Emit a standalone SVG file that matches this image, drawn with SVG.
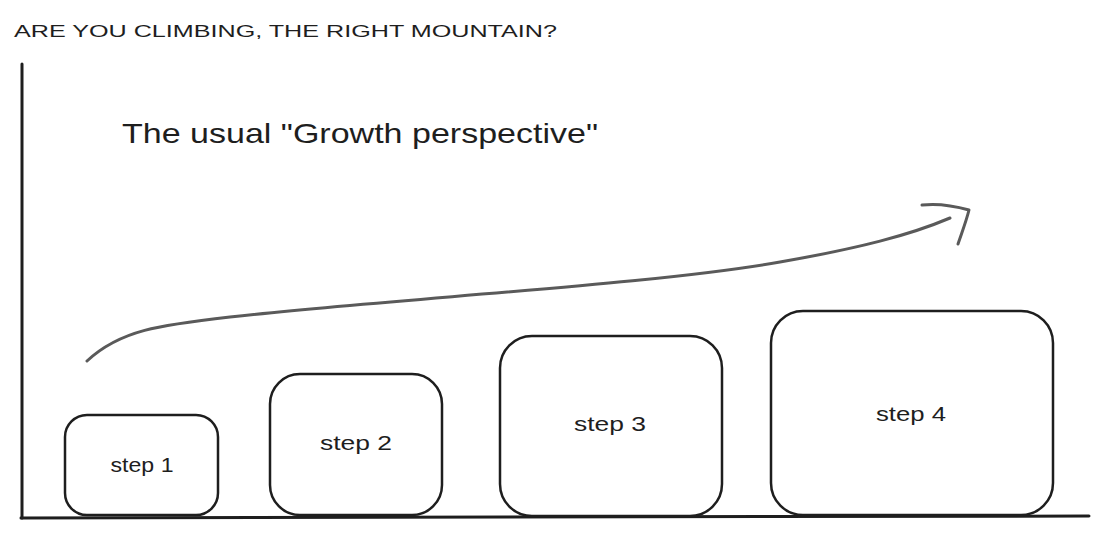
<svg xmlns="http://www.w3.org/2000/svg" width="1113" height="540" viewBox="0 0 1113 540">
<style>
.box{fill:#fff;stroke:#1e1e1e;stroke-width:2.5}
.lbl{font-family:"Liberation Sans",sans-serif;font-size:20px;fill:#1e1e1e;text-anchor:middle}
.axis{stroke:#1e1e1e;stroke-width:3;fill:none;stroke-linecap:round}
.arrow{stroke:#5a5a5a;stroke-width:3;fill:none;stroke-linecap:round;stroke-linejoin:round}
</style>
<rect width="1113" height="540" fill="#fff"/>
<text x="14" y="37" font-family="Liberation Sans, sans-serif" font-size="16" fill="#1e1e1e" textLength="543" lengthAdjust="spacingAndGlyphs">ARE YOU CLIMBING, THE RIGHT MOUNTAIN?</text>
<text x="122" y="143" font-family="Liberation Sans, sans-serif" font-size="28" fill="#1e1e1e" textLength="476" lengthAdjust="spacingAndGlyphs">The usual "Growth perspective"</text>
<g id="axes">
<path class="axis" d="M22,64 L22,518"/>
<path class="axis" d="M21,518 L1089,516"/>
</g>
<g id="step1"><rect class="box" x="65" y="415" width="153" height="100" rx="22"/><text class="lbl" x="142" y="472" textLength="63" lengthAdjust="spacingAndGlyphs">step 1</text></g>
<g id="step2"><rect class="box" x="270" y="374" width="172" height="141" rx="30"/><text class="lbl" x="356" y="450" textLength="72" lengthAdjust="spacingAndGlyphs">step 2</text></g>
<g id="step3"><rect class="box" x="500" y="336" width="222" height="180" rx="32"/><text class="lbl" x="610" y="431" textLength="72" lengthAdjust="spacingAndGlyphs">step 3</text></g>
<g id="step4"><rect class="box" x="771" y="311" width="282" height="204" rx="32"/><text class="lbl" x="911" y="421" textLength="70" lengthAdjust="spacingAndGlyphs">step 4</text></g>
<g id="connectors">
<path class="arrow" d="M87,361 C120,330 160,325 230,317 C400,298 650,285 780,262 C860,248 910,235 950,218"/>
<path class="arrow" d="M922,205 C940,203 955,206 969,210 C966,222 962,232 958,244"/>
</g>
</svg>
